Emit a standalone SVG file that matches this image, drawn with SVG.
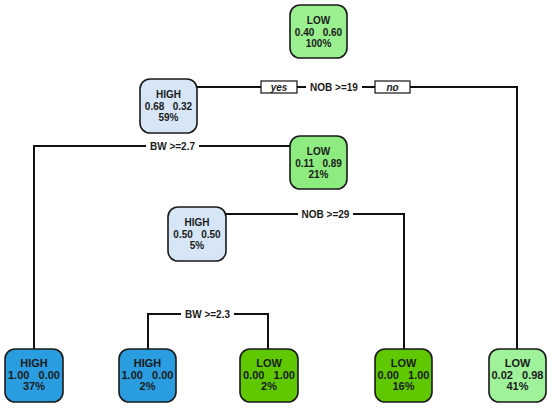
<svg xmlns="http://www.w3.org/2000/svg" width="550" height="408" viewBox="0 0 550 408">
<style>
.box{stroke:#1a1a1a;stroke-width:1.6}
.t{font-family:"Liberation Sans",Arial,sans-serif;font-weight:bold;font-size:10px;fill:#1a1a1a;text-anchor:middle;white-space:pre}
.tl{font-family:"Liberation Sans",Arial,sans-serif;font-weight:bold;font-size:11px;fill:#1a1a1a;text-anchor:middle;white-space:pre}
.lbl{font-family:"Liberation Sans",Arial,sans-serif;font-weight:bold;font-size:10px;fill:#1a1a1a;text-anchor:middle}
.yn{font-family:"Liberation Sans",Arial,sans-serif;font-style:italic;font-weight:bold;font-size:10px;fill:#1a1a1a;text-anchor:middle}
.ln{fill:none;stroke:#111;stroke-width:2}
.g1{fill:#9AEF8F}.g2{fill:#8DEB80}.g3{fill:#A0F29A}.gd{fill:#60C800}
.b1{fill:#D6E6F7}.bd{fill:#2A9DE0}
</style>
<rect width="550" height="408" fill="#fff"/>
<g id="connectors">
<path class="ln" d="M197 87H517V349"/>
<path class="ln" d="M34 349V146H290"/>
<path class="ln" d="M226 214H404V349"/>
<path class="ln" d="M148 349V314H268V349"/>
<rect x="306" y="80" width="56" height="14" fill="#fff"/>
<text class="lbl" x="334" y="91">NOB &gt;=19</text>
<rect x="261" y="81" width="36" height="12" fill="#fff" stroke="#111" stroke-width="1.2"/>
<text class="yn" x="279" y="91">yes</text>
<rect x="375" y="81" width="35" height="12" fill="#fff" stroke="#111" stroke-width="1.2"/>
<text class="yn" x="392.5" y="91">no</text>
<rect x="146" y="139" width="53" height="14" fill="#fff"/>
<text class="lbl" x="172.5" y="150">BW &gt;=2.7</text>
<rect x="298" y="207" width="55" height="14" fill="#fff"/>
<text class="lbl" x="325.5" y="218">NOB &gt;=29</text>
<rect x="181" y="307" width="53" height="14" fill="#fff"/>
<text class="lbl" x="207.5" y="318">BW &gt;=2.3</text>
</g>
<g id="n1">
<rect class="box g1" x="290" y="5" width="57" height="53" rx="10"/>
<text class="t" x="318.5" y="24">LOW</text>
<text class="t" x="318.5" y="36">0.40   0.60</text>
<text class="t" x="318.5" y="47">100%</text>
</g>
<g id="n2">
<rect class="box b1" x="140" y="79" width="57" height="54" rx="10"/>
<text class="t" x="168.5" y="98">HIGH</text>
<text class="t" x="168.5" y="110">0.68   0.32</text>
<text class="t" x="168.5" y="121">59%</text>
</g>
<g id="n3">
<rect class="box g2" x="290" y="136" width="57" height="53" rx="10"/>
<text class="t" x="318.5" y="155">LOW</text>
<text class="t" x="318.5" y="167">0.11   0.89</text>
<text class="t" x="318.5" y="178">21%</text>
</g>
<g id="n4">
<rect class="box b1" x="168" y="207" width="58" height="54" rx="10"/>
<text class="t" x="197" y="226">HIGH</text>
<text class="t" x="197" y="238">0.50   0.50</text>
<text class="t" x="197" y="249">5%</text>
</g>
<g id="leaf1">
<rect class="box bd" x="5" y="349" width="58" height="53" rx="10"/>
<text class="tl" x="34" y="367">HIGH</text>
<text class="tl" x="34" y="379">1.00   0.00</text>
<text class="tl" x="34" y="390">37%</text>
</g>
<g id="leaf2">
<rect class="box bd" x="119" y="349" width="57" height="53" rx="10"/>
<text class="tl" x="147.5" y="367">HIGH</text>
<text class="tl" x="147.5" y="379">1.00   0.00</text>
<text class="tl" x="147.5" y="390">2%</text>
</g>
<g id="leaf3">
<rect class="box gd" x="240" y="349" width="58" height="53" rx="10"/>
<text class="tl" x="269" y="367">LOW</text>
<text class="tl" x="269" y="379">0.00   1.00</text>
<text class="tl" x="269" y="390">2%</text>
</g>
<g id="leaf4">
<rect class="box gd" x="375" y="349" width="57" height="53" rx="10"/>
<text class="tl" x="403.5" y="367">LOW</text>
<text class="tl" x="403.5" y="379">0.00   1.00</text>
<text class="tl" x="403.5" y="390">16%</text>
</g>
<g id="leaf5">
<rect class="box g3" x="489" y="349" width="57" height="53" rx="10"/>
<text class="tl" x="517.5" y="367">LOW</text>
<text class="tl" x="517.5" y="379">0.02   0.98</text>
<text class="tl" x="517.5" y="390">41%</text>
</g>
</svg>
